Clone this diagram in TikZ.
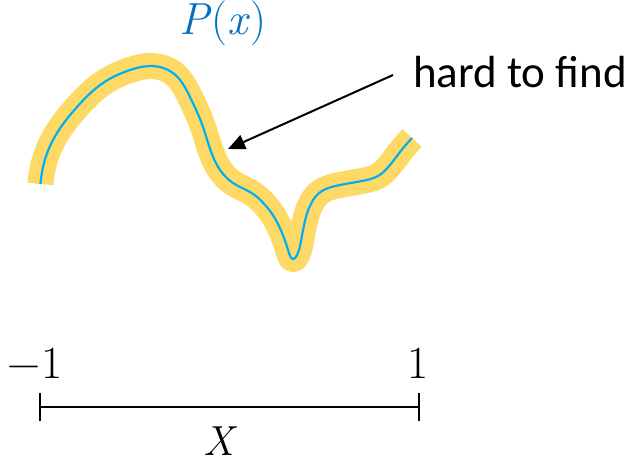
\documentclass[tikz,border=0pt]{standalone}
\usepackage{fontspec}
\newfontfamily\labelfont{Carlito}
\usetikzlibrary{arrows.meta,hobby}
\definecolor{hl}{HTML}{FFD966}
\definecolor{curveblue}{HTML}{00B0F0}
\definecolor{labelblue}{HTML}{0070C0}
\begin{document}
\begin{tikzpicture}[x=1pt,y=-1pt,
  band/.style={line width=26pt, draw=hl, line cap=butt, line join=round},
  centre/.style={line width=2.2pt, draw=curveblue, line cap=butt},
  pointer/.style={line width=2pt, -{Triangle[length=17pt,width=15pt]}},
  axisline/.style={line width=2.2pt},
  mathlbl/.style={font=\fontsize{46}{54}\selectfont, inner sep=0pt, anchor=base},
  textlbl/.style={font=\labelfont\fontsize{45}{54}\selectfont, inner sep=0pt, anchor=base west}]
\useasboundingbox (0,0) rectangle (629,462);
\foreach \sty in {band,centre}{
  \draw[\sty] (40.5,184) to[curve through={(53,140) (77,107) (103,83) (130,70) (152,66) (173,73) (190,97)
    (203,127) (217,165) (233,183) (250,192)}] (265,205);
  \draw[\sty] (265,205)
    .. controls (276,216) and (284,236) .. (288,250)
    .. controls (290,256) and (291,259) .. (293,259)
    .. controls (296,259) and (298,254) .. (300,246)
    .. controls (303,232) and (305,214) .. (311,204);
  \draw[\sty] (311,204) to[curve through={(322,191) (340,185) (362,181) (378,176) (390,165)
    (400,152)}] (412,138);
}
\node[mathlbl, font=\fontsize{45}{52}\selectfont, text=labelblue] (plbl) at (223,35) {\textit{P}(\textit{x})};
\node[textlbl] (hard) at (413,88) {hard to find};
\coordinate (tail) at (393,75);
\coordinate (tip) at (228,149);
\draw[pointer] (tail) -- (tip);
\coordinate (a) at (40,407);
\coordinate (b) at (419,407);
\draw[axisline] (a) -- (b);
\draw[axisline] ([yshift=-14pt]a) -- ([yshift=14pt]a);
\draw[axisline] ([yshift=-14pt]b) -- ([yshift=14pt]b);
\node[mathlbl] (lo) at (35,378) {−1};
\node[mathlbl] (hi) at (418,378) {1};
\node[mathlbl, font=\fontsize{42}{50}\selectfont] (xl) at (221,455) {\textit{X}};
\end{tikzpicture}
\end{document}
